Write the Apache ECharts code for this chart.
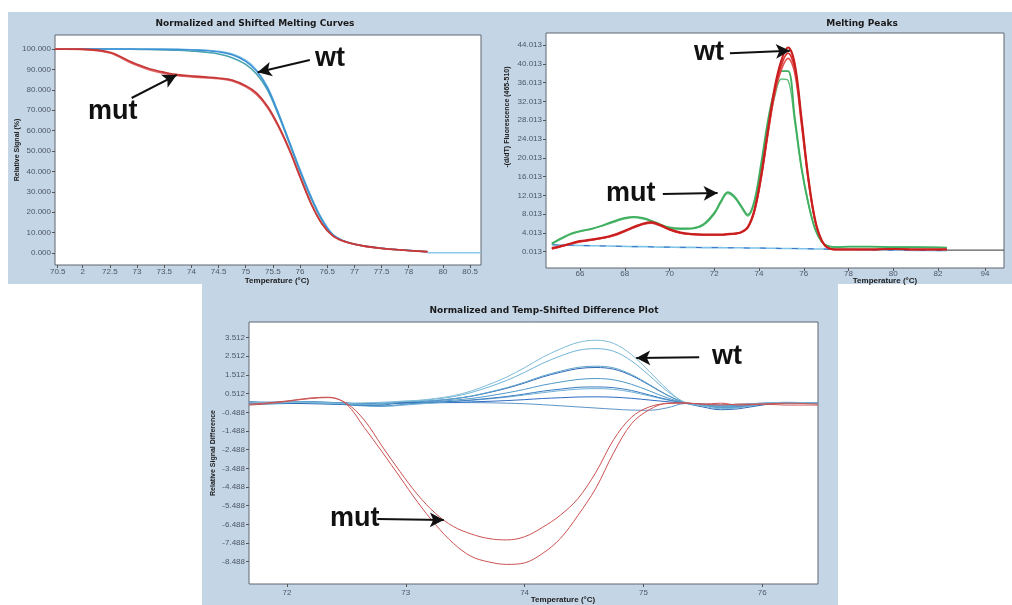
<!DOCTYPE html>
<html>
<head>
<meta charset="utf-8">
<title>Melting curves</title>
<script src="https://cdn.jsdelivr.net/npm/echarts@6/dist/echarts.min.js"></script>
<style>
  html, body { margin:0; padding:0; background:#fff; }
  #main { width:1012px; height:605px; }
</style>
</head>
<body>
<div id="main"></div>
<script>
/* ===== Panel 1 : normalized and shifted melting curves ===== */
const meltTicks = [70.5, 72, 72.5, 73, 73.5, 74, 74.5, 75, 75.5, 76, 76.5, 77, 77.5, 78, 80, 80.5];
const meltTickLabels = ['70.5', '2', '72.5', '73', '73.5', '74', '74.5', '75', '75.5', '76', '76.5', '77', '77.5', '78', '80', '80.5'];
const meltSignalTicks = [0, 10, 20, 30, 40, 50, 60, 70, 80, 90, 100];

const meltTemps = [70.45, 71.0, 72.0, 72.5, 72.9, 73.2, 73.5, 73.75, 74.0, 74.25, 74.5, 74.75, 75.0, 75.2, 75.4, 75.6, 75.8, 76.0, 76.2, 76.4, 76.6, 76.8, 77.0, 77.2, 77.5, 77.8, 79.1];
const mutMelt1 = [100, 100, 99.9, 98.4, 93.6, 90.6, 88.6, 87.4, 86.8, 86.3, 85.8, 84.8, 82.0, 78.4, 72.0, 62.6, 51.0, 37.5, 24.5, 14.5, 8.5, 5.8, 4.3, 3.3, 2.3, 1.6, 0.6];
const mutMelt2 = [100, 100, 99.8, 98.0, 93.0, 90.0, 88.0, 86.9, 86.3, 85.9, 85.4, 84.3, 81.4, 77.6, 71.2, 61.8, 50.4, 37.0, 24.2, 14.3, 8.4, 5.7, 4.2, 3.2, 2.2, 1.5, 0.6];
const wtMelt1 = [100, 100, 100, 100, 100, 99.9, 99.9, 99.8, 99.6, 99.3, 98.6, 97.2, 94.0, 89.2, 81.0, 68.5, 54.5, 40.5, 27.5, 16.5, 9.0, 5.9, 4.3, 3.3, 2.3, 1.6, 0.6];
const wtMelt2 = [100, 100, 100, 100, 99.9, 99.8, 99.6, 99.4, 99.0, 98.5, 97.6, 95.8, 92.5, 87.8, 80.0, 67.8, 54.0, 40.0, 27.0, 16.2, 8.9, 5.9, 4.3, 3.3, 2.3, 1.6, 0.6];
const wtMelt3 = [100, 100, 100, 100, 100, 100, 99.9, 99.9, 99.7, 99.5, 98.9, 97.6, 94.6, 89.8, 81.6, 69.0, 55.0, 41.0, 28.0, 17.0, 9.3, 6.0, 4.4, 3.3, 2.3, 1.6, 0.6];
const meltTailTemps = [79.1, 80.7];
const meltTailValues = [0.1, 0.1];

/* ===== Panel 2 : melting peaks ===== */
const peakTicks = [66, 68, 70, 72, 74, 76, 78, 80, 82, 94];
const peakFluorTicks = [0.013, 4.013, 8.013, 12.013, 16.013, 20.013, 24.013, 28.013, 32.013, 36.013, 40.013, 44.013];

const peakTemps = [64.74, 65.2, 65.6, 66.0, 66.5, 67.0, 67.5, 68.0, 68.4, 68.8, 69.2, 69.6, 70.0, 70.5, 71.0, 71.5, 72.0, 72.3, 72.6, 72.9, 73.2, 73.5, 73.8, 74.1, 74.4, 74.7, 75.0, 75.3, 75.6, 75.9, 76.2, 76.5, 76.8, 77.1, 77.5, 78.0, 79.0, 80.0, 81.0, 82.4];
const wtPeak1 = [0.8, 1.3, 1.8, 2.3, 2.6, 3.0, 3.6, 4.5, 5.3, 6.0, 6.3, 5.7, 4.8, 4.1, 3.8, 3.7, 3.7, 3.7, 3.8, 3.9, 4.2, 5.3, 9.0, 16.5, 26.0, 35.0, 40.8, 43.5, 40.0, 28.5, 16.0, 7.0, 2.5, 0.8, 0.5, 0.5, 0.5, 0.6, 0.5, 0.5];
const wtPeak2 = [0.6, 1.2, 1.7, 2.2, 2.5, 2.9, 3.5, 4.4, 5.2, 5.9, 6.2, 5.6, 4.7, 4.0, 3.7, 3.6, 3.6, 3.6, 3.7, 3.8, 4.1, 5.2, 8.8, 16.0, 25.5, 34.2, 39.8, 42.3, 39.0, 27.8, 15.6, 6.8, 2.4, 0.8, 0.5, 0.5, 0.5, 0.6, 0.5, 0.5];
const wtPeak3 = [0.7, 1.2, 1.7, 2.1, 2.5, 2.9, 3.4, 4.3, 5.1, 5.8, 6.1, 5.5, 4.7, 4.0, 3.7, 3.6, 3.6, 3.6, 3.7, 3.8, 4.1, 5.1, 8.6, 15.7, 25.0, 33.5, 38.8, 41.2, 38.0, 27.0, 15.2, 6.6, 2.3, 0.8, 0.5, 0.5, 0.5, 0.6, 0.5, 0.5];
const mutPeak1 = [1.8, 3.0, 3.9, 4.4, 4.9, 5.6, 6.5, 7.2, 7.45, 7.2, 6.6, 5.8, 5.2, 5.0, 5.0, 5.8, 8.3, 10.8, 12.7, 11.8, 9.8, 7.9, 11.0, 19.0, 28.0, 34.5, 38.5, 38.5, 28.5, 18.0, 10.5, 5.0, 2.2, 1.2, 1.0, 1.1, 1.1, 1.0, 1.0, 0.9];
const mutPeak2 = [1.6, 2.8, 3.7, 4.3, 4.8, 5.5, 6.3, 7.0, 7.3, 7.0, 6.4, 5.6, 5.0, 4.8, 4.9, 5.6, 8.0, 10.5, 12.4, 11.5, 9.5, 7.6, 10.5, 18.0, 26.5, 33.0, 36.8, 36.5, 27.5, 17.5, 10.2, 4.8, 2.1, 1.2, 1.0, 1.1, 1.1, 1.0, 1.0, 0.9];
const basePeak = [1.5, 1.45, 1.4, 1.35, 1.3, 1.25, 1.2, 1.15, 1.1, 1.1, 1.05, 1.0, 1.0, 0.95, 0.95, 0.9, 0.9, 0.9, 0.85, 0.85, 0.85, 0.8, 0.8, 0.8, 0.75, 0.75, 0.7, 0.7, 0.7, 0.65, 0.65, 0.6, 0.6, 0.55, 0.5, 0.5, 0.4, 0.35, 0.3, 0.25];
const peakTailTemps = [82.4, 94.85];
const peakTailValues = [0.35, 0.35];

/* ===== Panel 3 : temp-shifted difference plot ===== */
const diffTicks = [72, 73, 74, 75, 76];
const diffSignalTicks = [3.512, 2.512, 1.512, 0.512, -0.488, -1.488, -2.488, -3.488, -4.488, -5.488, -6.488, -7.488, -8.488];

const diffTemps = [71.68, 71.8, 72.0, 72.2, 72.35, 72.5, 72.65, 72.8, 72.95, 73.1, 73.25, 73.4, 73.55, 73.7, 73.85, 74.0, 74.15, 74.3, 74.45, 74.6, 74.75, 74.9, 75.05, 75.2, 75.35, 75.5, 75.65, 75.8, 76.0, 76.2, 76.47];
const mutDiff1 = [-0.1, -0.05, 0.1, 0.25, 0.3, 0.0, -0.9, -2.3, -3.65, -4.9, -5.9, -6.6, -7.0, -7.25, -7.32, -7.15, -6.65, -6.0, -5.1, -3.7, -1.95, -0.75, -0.2, -0.02, 0.0, -0.05, -0.1, -0.05, -0.05, -0.1, -0.1];
const mutDiff2 = [-0.05, 0.0, 0.12, 0.28, 0.32, -0.05, -1.3, -2.6, -3.95, -5.3, -6.5, -7.5, -8.2, -8.5, -8.63, -8.55, -8.05, -7.25, -6.0, -4.55, -2.65, -1.1, -0.35, 0.0, 0.02, -0.05, 0.0, -0.1, -0.05, 0.0, -0.05];
const wtDiff1 = [0.05, 0.03, 0.05, 0.02, 0.0, 0.0, 0.02, 0.05, 0.1, 0.15, 0.25, 0.4, 0.65, 1.0, 1.4, 1.9, 2.45, 2.9, 3.25, 3.37, 3.2, 2.6, 1.7, 0.75, 0.05, -0.05, -0.1, -0.05, 0.0, 0.02, 0.0];
const wtDiff2 = [-0.05, -0.02, 0.03, 0.05, 0.02, -0.02, -0.05, -0.02, 0.09, 0.13, 0.22, 0.35, 0.57, 0.87, 1.22, 1.65, 2.13, 2.52, 2.83, 2.92, 2.78, 2.26, 1.48, 0.65, 0.04, -0.15, -0.3, -0.25, -0.05, 0.05, 0.0];
const wtDiff3 = [0.0, 0.05, 0.08, 0.05, 0.0, -0.05, -0.1, -0.08, 0.06, 0.09, 0.15, 0.24, 0.38, 0.59, 0.83, 1.12, 1.45, 1.71, 1.92, 1.98, 1.89, 1.53, 1.0, 0.44, 0.03, -0.1, -0.2, -0.15, -0.05, 0.0, 0.02];
const wtDiff4 = [0.08, 0.05, 0.0, -0.03, -0.05, -0.08, -0.12, -0.1, 0.02, 0.08, 0.14, 0.23, 0.37, 0.57, 0.8, 1.08, 1.4, 1.65, 1.85, 1.91, 1.82, 1.48, 0.97, 0.43, 0.02, -0.2, -0.35, -0.3, -0.1, 0.03, 0.0];
const wtDiff5 = [-0.08, -0.05, 0.0, 0.03, 0.0, -0.05, -0.12, -0.15, -0.08, 0.0, 0.08, 0.16, 0.25, 0.39, 0.55, 0.74, 0.96, 1.13, 1.27, 1.32, 1.25, 1.01, 0.66, 0.29, 0.02, -0.05, -0.15, -0.1, -0.02, 0.03, 0.0];
const wtDiff6 = [0.02, 0.0, 0.05, 0.08, 0.05, 0.0, -0.05, -0.02, 0.03, 0.04, 0.07, 0.1, 0.17, 0.26, 0.36, 0.49, 0.64, 0.75, 0.85, 0.87, 0.83, 0.68, 0.44, 0.2, 0.01, -0.08, -0.2, -0.18, -0.05, 0.02, 0.0];
const wtDiff7 = [-0.03, -0.05, -0.02, 0.0, -0.03, -0.08, -0.15, -0.18, -0.12, -0.05, 0.02, 0.09, 0.15, 0.23, 0.32, 0.44, 0.56, 0.67, 0.75, 0.78, 0.74, 0.6, 0.39, 0.17, 0.01, -0.1, -0.25, -0.2, -0.08, 0.0, -0.02];
const wtDiff8 = [0.05, 0.02, 0.0, 0.02, 0.03, 0.0, -0.03, 0.0, 0.01, 0.02, 0.03, 0.04, 0.07, 0.1, 0.14, 0.19, 0.25, 0.29, 0.33, 0.34, 0.32, 0.26, 0.17, 0.08, 0.0, -0.05, -0.1, -0.08, 0.0, 0.03, 0.0];
const wtDiff9 = [0.0, -0.02, 0.02, 0.05, 0.03, 0.0, -0.02, 0.0, 0.0, 0.0, 0.02, 0.03, 0.03, 0.02, 0.0, -0.03, -0.08, -0.14, -0.2, -0.26, -0.32, -0.37, -0.38, -0.25, -0.02, -0.1, -0.25, -0.22, -0.05, 0.02, 0.0];

/* ===== helpers ===== */
const chart = echarts.init(document.getElementById('main'));
const FONT = '"Liberation Sans", Arial, sans-serif';
const PANEL = '#c4d5e6';

const pairs = (xs, ys) => xs.map((x, i) => [x, ys[i]]);

function line(temps, vals, idx, color, width, extra) {
  return Object.assign({
    type: 'line',
    xAxisIndex: idx, yAxisIndex: idx,
    data: pairs(temps, vals),
    showSymbol: false, smooth: 0.35, silent: true,
    lineStyle: { color: color, width: width },
    itemStyle: { color: color }
  }, extra || {});
}

// black annotation arrows, given as [fromX, fromY, toX, toY] in data units
function arrows(list) {
  return {
    silent: true,
    symbol: ['none', 'arrow'],
    symbolSize: [11, 14],
    lineStyle: { color: '#111', width: 2, type: 'solid' },
    itemStyle: { color: '#111' },
    label: { show: false },
    emphasis: { disabled: true },
    data: list.map(a => [{ coord: [a[0], a[1]] }, { coord: [a[2], a[3]] }])
  };
}

const tickLabel = { fontSize: 8, fontFamily: FONT, color: '#4d5866' };
const tickLine = { lineStyle: { color: '#555' }, length: 3 };

function xAxisOf(idx, min, max, ticks, fmt, margin, extra) {
  return Object.assign({
    type: 'value', gridIndex: idx, min: min, max: max,
    axisLine: { show: false, onZero: false },
    splitLine: { show: false },
    axisTick: Object.assign({ customValues: ticks }, tickLine),
    axisLabel: Object.assign({ customValues: ticks, formatter: fmt, margin: margin }, tickLabel)
  }, extra || {});
}

function yAxisOf(idx, min, max, ticks) {
  return {
    type: 'value', gridIndex: idx, min: min, max: max,
    axisLine: { show: false, onZero: false },
    splitLine: { show: false },
    axisTick: Object.assign({ show: true, customValues: ticks }, tickLine),
    axisLabel: Object.assign({ customValues: ticks, formatter: v => v.toFixed(3), margin: 4 }, tickLabel)
  };
}

function txt(x, y, text, font, extra) {
  return Object.assign({
    type: 'text', x: x, y: y, z: 100, silent: true,
    style: { text: text, font: font, fill: '#1a1a1a', align: 'center', verticalAlign: 'middle' }
  }, extra || {});
}

function note(x, y, text) {
  return {
    type: 'text', x: x, y: y, z: 100, silent: true,
    style: { text: text, font: 'bold 27px ' + FONT, fill: '#111', align: 'left', verticalAlign: 'middle' }
  };
}

const titleFont = 'bold 9px "DejaVu Sans", sans-serif';
const axisNameFont = 'bold 8px ' + FONT;
const nameFont = 'bold 7px ' + FONT;

const gridBox = { show: true, backgroundColor: '#fff', borderColor: '#5f6670', borderWidth: 1 };

/* ===== option ===== */
chart.setOption({
  animation: false,
  backgroundColor: '#fff',

  grid: [
    Object.assign({ left: 55, top: 35, width: 426, height: 230 }, gridBox),
    Object.assign({ left: 546, top: 33, width: 458, height: 235 }, gridBox),
    Object.assign({ left: 249, top: 322, width: 569, height: 262 }, gridBox)
  ],

  xAxis: [
    xAxisOf(0, 70.45, 80.7, meltTicks, v => meltTickLabels[meltTicks.indexOf(v)] || String(v), 3, {
      breaks: [{ start: 70.5, end: 72, gap: 0.46 }, { start: 78, end: 80, gap: 0.63 }],
      breakArea: { show: false }
    }),
    xAxisOf(1, 64.48, 94.85, peakTicks, v => String(v), 2, {
      breaks: [{ start: 82.5, end: 93.5, gap: 1.1 }],
      breakArea: { show: false }
    }),
    xAxisOf(2, 71.68, 76.47, diffTicks, v => String(v), 5)
  ],

  yAxis: [
    yAxisOf(0, -5.9, 106.9, meltSignalTicks),
    yAxisOf(1, -3.45, 46.6, peakFluorTicks),
    yAxisOf(2, -9.68, 4.346, diffSignalTicks)
  ],

  series: [
    // panel 1
    line(meltTemps, wtMelt2, 0, '#48a3b0', 1.6, {
      markLine: arrows([[76.18, 94.6, 75.22, 88.6], [72.9, 76.0, 73.73, 87.3]])
    }),
    line(meltTemps, wtMelt3, 0, '#7cc2e4', 1.4),
    line(meltTemps, wtMelt1, 0, '#3d8fd6', 1.4),
    line(meltTemps, mutMelt2, 0, '#e06a6a', 1.4),
    line(meltTemps, mutMelt1, 0, '#c83838', 1.8),
    line(meltTailTemps, meltTailValues, 0, '#8cc8ea', 1.4),

    // panel 2
    line(peakTemps, basePeak, 1, '#7ec4e8', 1.6, {
      markLine: arrows([[72.7, 42.3, 75.38, 42.8], [69.7, 12.3, 72.15, 12.5]])
    }),
    line(peakTemps, basePeak, 1, '#3c6fc4', 1, { lineStyle: { color: '#3c6fc4', width: 1, type: [6, 10] } }),
    line(peakTailTemps, peakTailValues, 1, '#5a5a5a', 1.4),
    line(peakTemps, mutPeak2, 1, '#5cc07a', 1.4),
    line(peakTemps, mutPeak1, 1, '#3fae5e', 1.8),
    line(peakTemps, wtPeak3, 1, '#e05050', 1.6),
    line(peakTemps, wtPeak2, 1, '#d83030', 1.8),
    line(peakTemps, wtPeak1, 1, '#c81e1e', 2),

    // panel 3
    line(diffTemps, wtDiff9, 2, '#5d95c8', 1, {
      markLine: arrows([[75.47, 2.46, 74.94, 2.42], [72.76, -6.2, 73.32, -6.26]])
    }),
    line(diffTemps, wtDiff8, 2, '#2d6cc4', 1),
    line(diffTemps, wtDiff7, 2, '#6fb0d8', 1),
    line(diffTemps, wtDiff6, 2, '#3a7cc0', 1),
    line(diffTemps, wtDiff5, 2, '#4f98c8', 1),
    line(diffTemps, wtDiff4, 2, '#2f66b6', 1),
    line(diffTemps, wtDiff3, 2, '#5aa4cc', 1),
    line(diffTemps, wtDiff2, 2, '#6fb3d6', 1),
    line(diffTemps, wtDiff1, 2, '#7fbcd8', 1),
    line(diffTemps, mutDiff1, 2, '#cc5252', 1),
    line(diffTemps, mutDiff2, 2, '#cc5252', 1)
  ],

  graphic: [
    { type: 'rect', z: -10, silent: true, shape: { x: 8, y: 12, width: 1004, height: 272 }, style: { fill: PANEL } },
    { type: 'rect', z: -10, silent: true, shape: { x: 202, y: 280, width: 636, height: 325 }, style: { fill: PANEL } },

    txt(255, 24, 'Normalized and Shifted Melting Curves', titleFont),
    txt(862, 24, 'Melting Peaks', titleFont),
    txt(544, 311, 'Normalized and Temp-Shifted Difference Plot', titleFont),

    txt(277, 281, 'Temperature (°C)', axisNameFont),
    txt(885, 281, 'Temperature (°C)', axisNameFont),
    txt(563, 600, 'Temperature (°C)', axisNameFont),
    txt(17, 150, 'Relative Signal (%)', nameFont, { rotation: Math.PI / 2 }),
    txt(507, 117, '-(d/dT) Fluorescence (465-510)', nameFont, { rotation: Math.PI / 2 }),
    txt(213, 453, 'Relative Signal Difference', nameFont, { rotation: Math.PI / 2 }),

    note(315, 59, 'wt'),
    note(88, 112, 'mut'),
    note(694, 53, 'wt'),
    note(606, 194, 'mut'),
    note(712, 357, 'wt'),
    note(330, 519, 'mut')
  ]
});
</script>
</body>
</html>
